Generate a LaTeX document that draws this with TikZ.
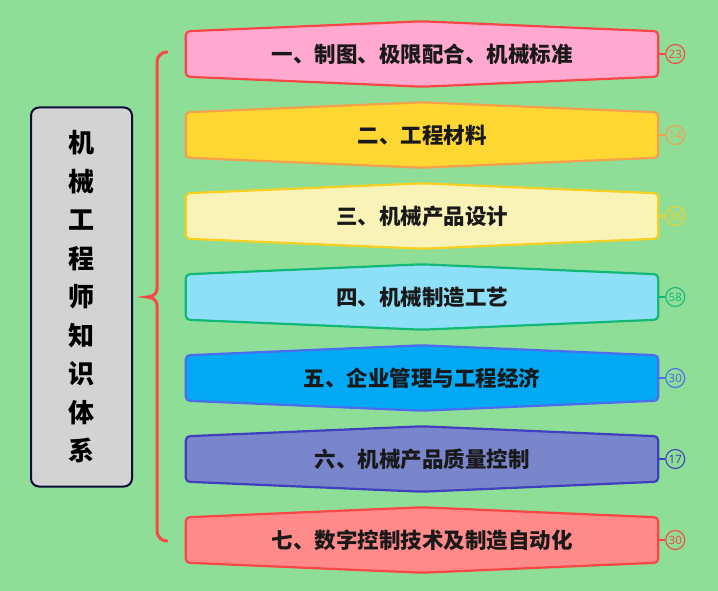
\documentclass[tikz,border=0pt]{standalone}
\usepackage{fontspec}
\setmainfont{Noto Sans CJK SC}
\newfontfamily\numfont{Noto Sans}
\usepackage{tikz}
\usetikzlibrary{
  positioning,
  backgrounds
}
\definecolor{bgcol}{RGB}{142,222,152}
\definecolor{bracecol}{RGB}{250,70,70}
\definecolor{rootfill}{RGB}{211,211,211}
\definecolor{rootline}{RGB}{12,12,58}
\definecolor{fillA}{RGB}{255,168,208}
\definecolor{lineA}{RGB}{250,70,70}
\definecolor{fillB}{RGB}{255,215,51}
\definecolor{lineB}{RGB}{245,160,74}
\definecolor{fillC}{RGB}{250,243,184}
\definecolor{lineC}{RGB}{245,208,32}
\definecolor{fillD}{RGB}{142,223,248}
\definecolor{lineD}{RGB}{18,184,118}
\definecolor{fillE}{RGB}{3,169,244}
\definecolor{lineE}{RGB}{74,108,240}
\definecolor{fillF}{RGB}{121,134,203}
\definecolor{lineF}{RGB}{63,63,191}
\definecolor{fillG}{RGB}{255,138,138}
\definecolor{lineG}{RGB}{250,70,70}
\tikzset{
  x=1pt, y=-1pt,
  root/.style={draw=rootline, fill=rootfill, line width=2pt, rounded corners=8pt,
    minimum width=101pt, minimum height=379pt, align=center,
    font=\fontsize{26}{38.5}\selectfont\bfseries},
  item/.style={minimum width=472pt, minimum height=45pt, inner sep=0pt,
    font=\fontsize{21.5}{24}\selectfont\bfseries, text=black!90},
  hexa/.style={line width=2.2pt, rounded corners=4pt},
  count/.style={circle, draw, line width=1.1pt, minimum size=19pt, inner sep=0pt,
    font=\fontsize{11.5}{12}\selectfont\numfont},
  brace/.style={draw=bracecol, line width=3pt, line cap=round}
}
\begin{document}
\begin{tikzpicture}
  \useasboundingbox (0,0) rectangle (718,591);
  \begin{pgfonlayer}{background}
    \fill[bgcol] (0,0) rectangle (718,591);
  \end{pgfonlayer}
  \node[root] (root) at (81.5,297) {机\\械\\工\\程\\师\\知\\识\\体\\系};
  \draw[brace] (167,52) to[out=180,in=90] (157,62) -- (157,289)
    to[out=-90,in=0] (147,297) to[out=0,in=90] (157,305) -- (157,531)
    to[out=-90,in=180] (167,541);
  \foreach \i/\c/\lbl/\num in {
      1/A/{一、制图、极限配合、机械标准}/23,
      2/B/{二、工程材料}/14,
      3/C/{三、机械产品设计}/36,
      4/D/{四、机械制造工艺}/58,
      5/E/{五、企业管理与工程经济}/30,
      6/F/{六、机械产品质量控制}/17,
      7/G/{七、数字控制技术及制造自动化}/30} {
    \pgfmathsetmacro\ypos{54+81*(\i-1)}
    \node[item] (t\i) at (422,\ypos) {\lbl};
    \begin{pgfonlayer}{background}
      \filldraw[hexa, fill=fill\c, draw=line\c]
        (t\i.north west) -- ([yshift=10pt]t\i.north) -- (t\i.north east)
        -- (t\i.south east) -- ([yshift=-10pt]t\i.south) -- (t\i.south west) -- cycle;
    \end{pgfonlayer}
    \node[count, draw=line\c, text=line\c, right=7pt of t\i] (n\i) {\num};
    \draw[line\c, line width=2pt] (t\i.east) -- (n\i.west);
  }
\end{tikzpicture}
\end{document}
